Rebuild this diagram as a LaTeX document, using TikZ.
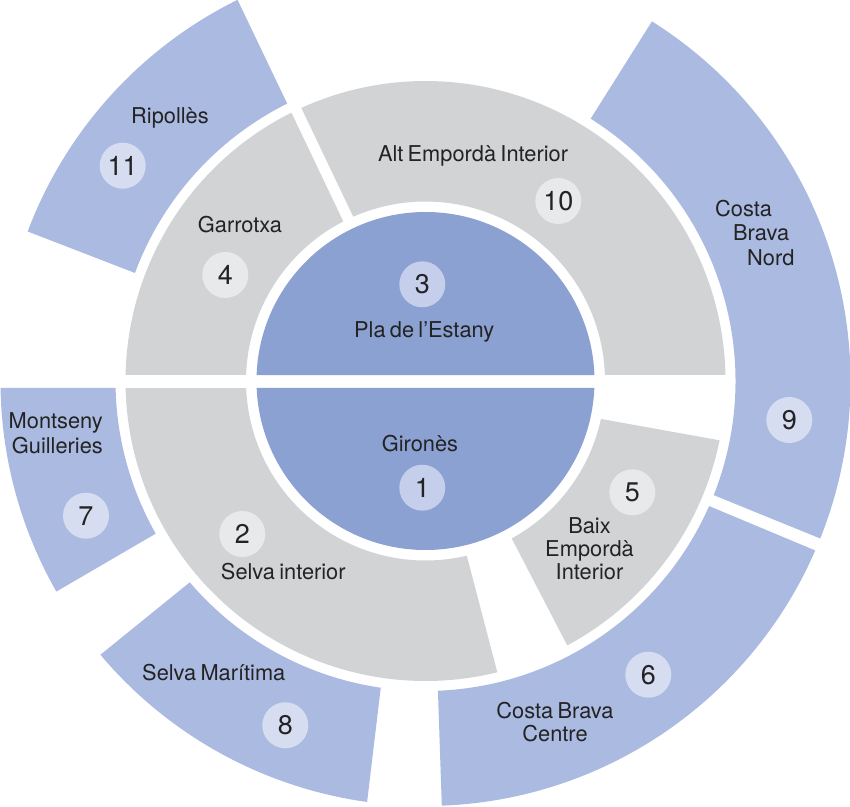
\documentclass[tikz,border=0pt]{standalone}
\usepackage{fontspec}
\setmainfont{TeX Gyre Heros}[WordSpace=0.7]
\usepackage{tikz}
\definecolor{diskblue}{HTML}{8AA1D2}
\definecolor{rimblue}{HTML}{AABAE1}
\definecolor{midgrey}{HTML}{D2D3D5}
\definecolor{diskbadge}{HTML}{C5CEEB}
\definecolor{rimbadge}{HTML}{D6DDF0}
\definecolor{midbadge}{HTML}{E8E9EB}
\definecolor{textdark}{HTML}{232323}

\begin{document}
\begin{tikzpicture}[x=1pt, y=1pt,
  diskpart/.style={fill=diskblue},
  midpart/.style={fill=midgrey},
  rimpart/.style={fill=rimblue},
  badge/.style={circle, inner sep=0pt, minimum size=46pt, text=textdark, font=\fontsize{27}{30}\selectfont},
  lab/.style={inner sep=0pt, text=textdark, font=\fontsize{21.8}{23}\selectfont}]
  \path[use as bounding box, fill=white] (-425.5,-425) rectangle (424.5,381);
  % inner disk
  \fill[diskpart] (2.03:169) arc[start angle=2.03, end angle=177.97, radius=169] -- cycle;
  \fill[diskpart] (182.37:169) arc[start angle=182.37, end angle=357.63, radius=169] -- cycle;
  % middle ring
  \fill[midpart] (117.26:179.5) arc[start angle=117.26, end angle=178.08, radius=179.5] -- (178.85:300) arc[start angle=178.85, end angle=116.55, radius=300] -- cycle;
  \fill[midpart] (1.92:179.5) arc[start angle=1.92, end angle=113.74, radius=179.5] -- (114.45:300) arc[start angle=114.45, end angle=1.15, radius=300] -- cycle;
  \fill[midpart] (182.24:179.5) arc[start angle=182.24, end angle=283.3, radius=179.5] -- (283.85:300) arc[start angle=283.85, end angle=181.34, radius=300] -- cycle;
  \fill[midpart] (298.7:179.5) arc[start angle=298.7, end angle=347.8, radius=179.5] -- (348.6:300) arc[start angle=348.6, end angle=298.2, radius=300] -- cycle;
  % outer ring
  \fill[rimpart] (116.5:310) arc[start angle=116.5, end angle=159.6, radius=310] -- (159.4:425) arc[start angle=159.4, end angle=116.25, radius=425] -- cycle;
  \fill[rimpart] (-21.6:310) arc[start angle=-21.6, end angle=57.8, radius=310] -- (57.8:425) arc[start angle=57.8, end angle=-21.75, radius=425] -- cycle;
  \fill[rimpart] (-87.7:310) arc[start angle=-87.7, end angle=-23.8, radius=310] -- (-23.5:425) arc[start angle=-23.5, end angle=-87.8, radius=425] -- cycle;
  \fill[rimpart] (220.5:310) arc[start angle=220.5, end angle=261.7, radius=310] -- (262.1:425) arc[start angle=262.1, end angle=220.1, radius=425] -- cycle;
  \fill[rimpart] (181.29:310) arc[start angle=181.29, end angle=209.5, radius=310] -- (209.7:425) arc[start angle=209.7, end angle=180.94, radius=425] -- cycle;
  % numbers
  \node[badge, fill=diskbadge] (b1) at (-3.2,-106.7) {1};
  \node[badge, fill=midbadge] (b2) at (-183.2,-153) {2};
  \node[badge, fill=diskbadge] (b3) at (-3.2,96.7) {3};
  \node[badge, fill=midbadge] (b4) at (-200.2,106) {4};
  \node[badge, fill=midbadge] (b5) at (206.8,-111.3) {5};
  \node[badge, fill=rimbadge] (b6) at (222.8,-293.7) {6};
  \node[badge, fill=rimbadge] (b7) at (-339.5,-134.7) {7};
  \node[badge, fill=rimbadge] (b8) at (-140.2,-344.3) {8};
  \node[badge, fill=rimbadge] (b9) at (363.8,-39) {9};
  \node[badge, fill=midbadge] (b10) at (132.8,180) {10};
  \node[badge, fill=rimbadge] (b11) at (-302.8,215.3) {11};
  % names
  \node[lab, anchor=base] (t1) at (-5.5,-70.7) {Gironès};
  \node[lab, anchor=base] (t2) at (-142.2,-198.7) {Selva interior};
  \node[lab, anchor=base] (t3) at (-1.3,43.7) {Pla de l’Estany};
  \node[lab, anchor=base] (t4) at (-185.5,148.7) {Garrotxa};
  \node[lab, anchor=north, align=center] (t5) at (164,-136.5) {Baix\\Empordà\\Interior};
  \node[lab, anchor=north, align=center, font=\fontsize{21.8}{23.3}\selectfont] (t6) at (129.5,-321) {Costa Brava\\Centre};
  \node[lab, anchor=north east, align=right, font=\fontsize{21.8}{25.3}\selectfont] (t7) at (-322.5,-31) {Montseny\\Guilleries};
  \node[lab, anchor=base] (t8) at (-211.7,-299.3) {Selva Marítima};
  \node[lab, anchor=north west, align=left, font=\fontsize{21.8}{24.5}\selectfont] (t9) at (289.5,181) {Costa\\\hspace*{18pt}Brava\\\hspace*{32pt}Nord};
  \node[lab, anchor=base] (t10) at (47.5,219.3) {Alt Empordà Interior};
  \node[lab, anchor=base] (t11) at (-255.5,257) {Ripollès};
\end{tikzpicture}
\end{document}
